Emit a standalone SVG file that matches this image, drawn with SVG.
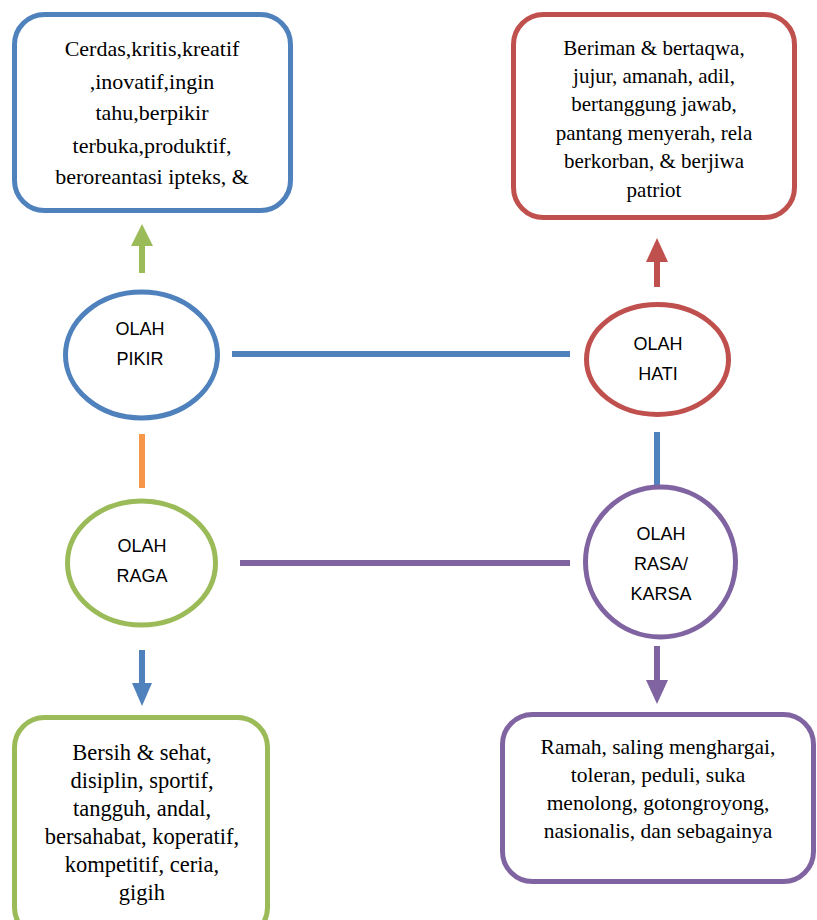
<svg xmlns="http://www.w3.org/2000/svg" width="817" height="920" viewBox="0 0 817 920">
<style>
.box{fill:#fff;stroke-width:5}
.ell{fill:#fff;stroke-width:5}
.blue{stroke:#4F81BD}
.red{stroke:#C0504D}
.green{stroke:#9BBB59}
.purple{stroke:#8064A2}
.orange{stroke:#F79646}
.bt{font-family:"Liberation Serif","Times New Roman",serif;fill:#000;text-anchor:middle}
.ct{font-family:"Liberation Sans",Arial,sans-serif;font-size:18px;fill:#000;text-anchor:middle}
.ln{stroke-width:6;fill:none}
</style>
<rect width="817" height="920" fill="#fff"/>
<g id="connectors">
<line class="ln green" x1="142" y1="273" x2="142" y2="243"/>
<polygon points="131,246 142,224 153,246" fill="#9BBB59"/>
<line class="ln red" x1="657" y1="287" x2="657" y2="259"/>
<polygon points="646,262 657,238 668,262" fill="#C0504D"/>
<line class="ln blue" x1="232" y1="354" x2="570" y2="354"/>
<line class="ln orange" x1="142" y1="434" x2="142" y2="488"/>
<line class="ln blue" x1="657" y1="432" x2="657" y2="487"/>
<line class="ln purple" x1="240" y1="563" x2="570" y2="563"/>
<line class="ln blue" x1="142" y1="650" x2="142" y2="686"/>
<polygon points="132,683 142,706 152,683" fill="#4F81BD"/>
<line class="ln purple" x1="657" y1="646" x2="657" y2="683"/>
<polygon points="646,680 657,704 668,680" fill="#8064A2"/>
</g>
<g id="box-pikir">
<rect class="box blue" x="14.5" y="14.5" width="276" height="196" rx="30"/>
<text class="bt" font-size="22"><tspan x="152" y="56">Cerdas,kritis,kreatif</tspan><tspan x="152" y="89">,inovatif,ingin</tspan><tspan x="152" y="120">tahu,berpikir</tspan><tspan x="152" y="153">terbuka,produktif,</tspan><tspan x="152" y="184">beroreantasi ipteks, &amp;</tspan></text>
</g>
<g id="box-hati">
<rect class="box red" x="513.5" y="14.5" width="281" height="203" rx="30"/>
<text class="bt" font-size="21"><tspan x="654" y="55">Beriman &amp; bertaqwa,</tspan><tspan x="654" y="83">jujur, amanah, adil,</tspan><tspan x="654" y="111">bertanggung jawab,</tspan><tspan x="654" y="140">pantang menyerah, rela</tspan><tspan x="654" y="168">berkorban, &amp; berjiwa</tspan><tspan x="654" y="197">patriot</tspan></text>
</g>
<g id="box-raga">
<rect class="box green" x="14.5" y="717.5" width="253" height="220" rx="30"/>
<text class="bt" font-size="22.5"><tspan x="142" y="760">Bersih &amp; sehat,</tspan><tspan x="142" y="788">disiplin, sportif,</tspan><tspan x="142" y="816">tangguh, andal,</tspan><tspan x="142" y="844">bersahabat, koperatif,</tspan><tspan x="142" y="872">kompetitif, ceria,</tspan><tspan x="142" y="900">gigih</tspan></text>
</g>
<g id="box-rasa">
<rect class="box purple" x="502.5" y="714.5" width="311" height="167" rx="30"/>
<text class="bt" font-size="21.5"><tspan x="658" y="754">Ramah, saling menghargai,</tspan><tspan x="658" y="782">toleran, peduli, suka</tspan><tspan x="658" y="810">menolong, gotongroyong,</tspan><tspan x="658" y="838">nasionalis, dan sebagainya</tspan></text>
</g>
<g id="olah-pikir">
<ellipse class="ell blue" cx="141.5" cy="355" rx="76" ry="63"/>
<text class="ct"><tspan x="140" y="335">OLAH</tspan><tspan x="140" y="365">PIKIR</tspan></text>
</g>
<g id="olah-raga">
<ellipse class="ell green" cx="141.5" cy="563" rx="74" ry="62"/>
<text class="ct"><tspan x="142" y="552">OLAH</tspan><tspan x="142" y="582">RAGA</tspan></text>
</g>
<g id="olah-hati">
<ellipse class="ell red" cx="657.5" cy="359.5" rx="71" ry="55"/>
<text class="ct"><tspan x="658" y="350">OLAH</tspan><tspan x="658" y="380">HATI</tspan></text>
</g>
<g id="olah-rasa">
<ellipse class="ell purple" cx="660.5" cy="562" rx="75" ry="75"/>
<text class="ct"><tspan x="661" y="540">OLAH</tspan><tspan x="661" y="570">RASA/</tspan><tspan x="661" y="600">KARSA</tspan></text>
</g>
</svg>
